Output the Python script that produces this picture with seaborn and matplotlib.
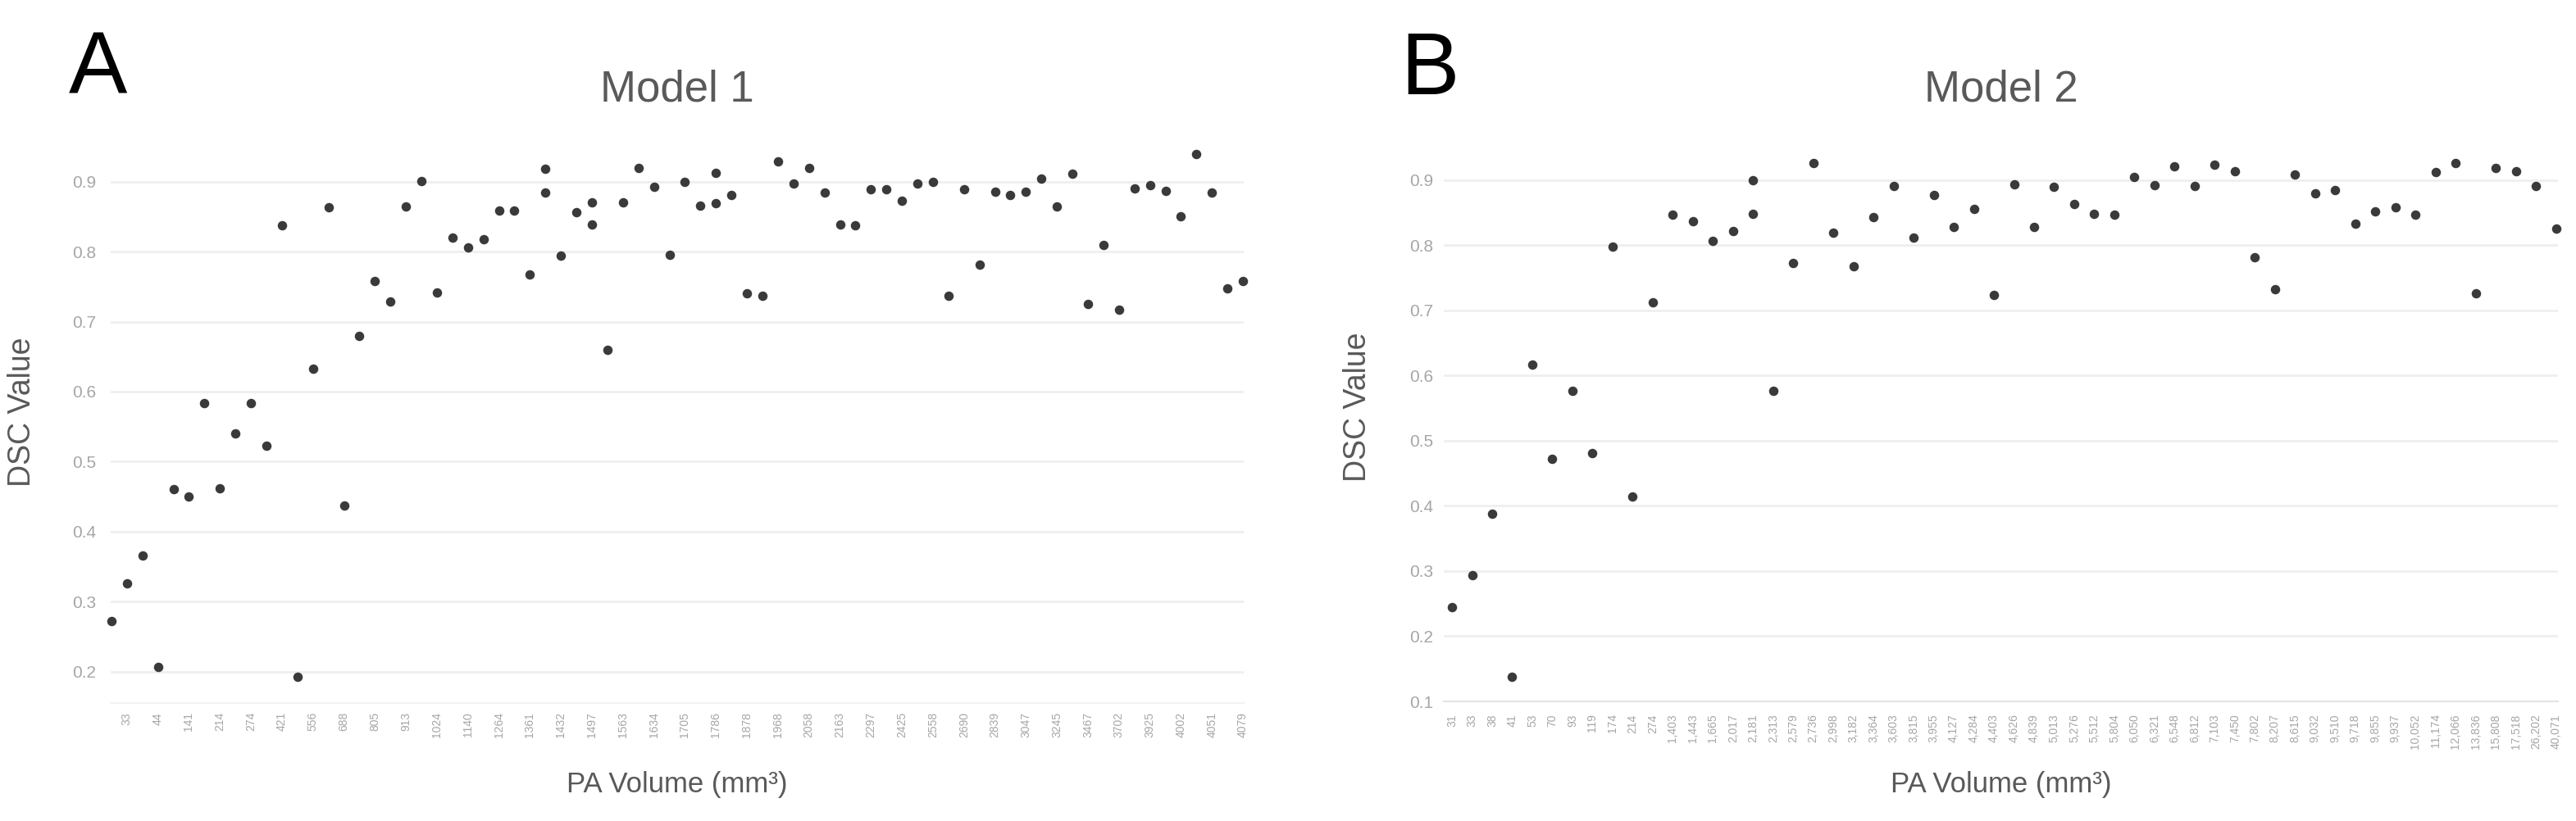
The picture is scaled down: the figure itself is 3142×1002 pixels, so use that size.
import numpy as np
import pandas as pd
import matplotlib
matplotlib.use("Agg")
import matplotlib.pyplot as plt
import seaborn as sns

# ---------------- data ----------------
# Panel A (Model 1): PA volume categories (mm^3) and DSC values
a_volume = ["31", "33", "37", "44", "109", "141", "174", "214", "243", "274",
            "338", "421", "473", "556", "612", "688", "741", "805", "867", "913",
            "978", "1024", "1081", "1140", "1198", "1264", "1327", "1361", "1398", "1432",
            "1461", "1497", "1529", "1563", "1600", "1634", "1669", "1705", "1744", "1786",
            "1830", "1878", "1927", "1968", "2011", "2058", "2109", "2163", "2234", "2297",
            "2360", "2425", "2495", "2558", "2622", "2690", "2764", "2839", "2958", "3047",
            "3176", "3245", "3398", "3467", "3625", "3702", "3841", "3925", "3968", "4002",
            "4029", "4051", "4066", "4079"]
a_dsc = [0.272, 0.326, 0.366, 0.206, 0.461, 0.450, 0.584, 0.462, 0.540, 0.583,
         0.523, 0.838, 0.193, 0.633, 0.864, 0.437, 0.680, 0.758, 0.729, 0.865,
         0.901, 0.742, 0.820, 0.806, 0.818, 0.859, 0.859, 0.768, 0.918, 0.794,
         0.857, 0.871, 0.660, 0.871, 0.920, 0.893, 0.795, 0.900, 0.866, 0.913,
         0.881, 0.740, 0.737, 0.929, 0.897, 0.920, 0.884, 0.839, 0.838, 0.889,
         0.889, 0.873, 0.897, 0.900, 0.737, 0.889, 0.782, 0.886, 0.881, 0.886,
         0.905, 0.865, 0.911, 0.725, 0.810, 0.717, 0.890, 0.895, 0.887, 0.851,
         0.940, 0.885, 0.748, 0.758]
a_extra_volume = ["1398", "1497", "1786"]
a_extra_dsc = [0.884, 0.839, 0.869]

# Panel B (Model 2)
b_volume = ["31", "33", "38", "41", "53", "70", "93", "119", "174", "214",
            "274", "1,403", "1,443", "1,665", "2,017", "2,181", "2,313", "2,579", "2,736", "2,998",
            "3,182", "3,364", "3,603", "3,815", "3,955", "4,127", "4,284", "4,403", "4,626", "4,839",
            "5,013", "5,276", "5,512", "5,804", "6,050", "6,321", "6,548", "6,812", "7,103", "7,450",
            "7,802", "8,207", "8,615", "9,032", "9,510", "9,718", "9,855", "9,937", "10,052", "11,174",
            "12,066", "13,836", "15,808", "17,518", "26,202", "40,071"]
b_dsc = [0.245, 0.294, 0.388, 0.138, 0.617, 0.472, 0.577, 0.481, 0.798, 0.414,
         0.712, 0.847, 0.837, 0.807, 0.822, 0.900, 0.577, 0.773, 0.926, 0.819,
         0.768, 0.843, 0.891, 0.811, 0.877, 0.828, 0.856, 0.723, 0.893, 0.828,
         0.889, 0.863, 0.848, 0.847, 0.904, 0.892, 0.921, 0.891, 0.923, 0.914,
         0.782, 0.733, 0.909, 0.880, 0.884, 0.833, 0.852, 0.858, 0.847, 0.912,
         0.926, 0.726, 0.918, 0.914, 0.891, 0.825]
b_extra_volume = ["2,181"]
b_extra_dsc = [0.848]

a_yticks = [0.2, 0.3, 0.4, 0.5, 0.6, 0.7, 0.8, 0.9]
b_yticks = [0.1, 0.2, 0.3, 0.4, 0.5, 0.6, 0.7, 0.8, 0.9]

titles = ["Model 1", "Model 2"]
panel_letters = ["A", "B"]
x_label = "PA Volume (mm³)"
y_label = "DSC Value"

# ---------------- style ----------------
sns.set_style("white")
plt.rcParams["font.family"] = ["Liberation Sans", "DejaVu Sans"]

W, H = 3142, 1002
fig = plt.figure(figsize=(W / 100, H / 100), dpi=100)

TEXT = "#595959"
TICK = "#a6a6a6"
MARK = "#3a3a3a"


def px_rect(left, top, right, bottom):
    return [left / W, 1 - bottom / H, (right - left) / W, (bottom - top) / H]


def panel(ax, vols, dsc, exv, exd, ylim, yticks, xlim, every, ypad, xpad, spine_col):
    df = pd.DataFrame({"vol": list(vols) + list(exv), "dsc": list(dsc) + list(exd)})
    sns.stripplot(data=df, x="vol", y="dsc", order=list(vols), jitter=False,
                  color=MARK, size=8.3, linewidth=0, ax=ax, zorder=3)
    for c in ax.collections:
        c.set_clip_on(False)
    ax.set_xlim(xlim)
    ax.set_ylim(ylim)
    ax.set_yticks(yticks)
    ax.set_yticklabels([f"{t:.1f}" for t in yticks])
    idx = list(range(every - 1, len(vols), every))
    ax.set_xticks(idx)
    ax.set_xticklabels([vols[i] for i in idx], rotation=90, va="top", ha="center")
    ax.grid(False)
    ax.yaxis.grid(True, color="#efefef", lw=2.0)
    ax.set_axisbelow(True)
    for s in ["top", "right", "left"]:
        ax.spines[s].set_visible(False)
    ax.spines["bottom"].set_color(spine_col)
    ax.spines["bottom"].set_linewidth(1.5)
    ax.tick_params(axis="y", length=0, labelsize=15, labelcolor=TICK, pad=ypad)
    ax.tick_params(axis="x", length=0, labelsize=10, labelcolor=TICK, pad=xpad)
    ax.set_xlabel("")
    ax.set_ylabel("")


# Panel A
axA = fig.add_axes(px_rect(135, 162, 1517, 858))
panel(axA, a_volume, a_dsc, a_extra_volume, a_extra_dsc, (0.155, 0.97), a_yticks,
      (-0.05, len(a_volume) - 1 + 0.05), 2, 13, 8, "#f3f3f3")

# Panel B
axB = fig.add_axes(px_rect(1761, 164, 3120, 856))
panel(axB, b_volume, b_dsc, b_extra_volume, b_extra_dsc, (0.1, 0.97), b_yticks,
      (-0.41, len(b_volume) - 1 + 0.1), 1, 9, 11, "#e3e3e3")

# Titles, panel letters, axis labels
for ax_rect_c, ttl, letter, lx, ylx, ycy in [
        ((135 + 1517) / 2, titles[0], panel_letters[0], 84, 27, 503),
        ((1761 + 3120) / 2, titles[1], panel_letters[1], 1708, 1656, 497)]:
    fig.text(ax_rect_c / W, 1 - 123 / H, ttl, ha="center", va="baseline",
             fontsize=38, color=TEXT)
    fig.text(lx / W, 1 - 115 / H, letter, ha="left", va="baseline",
             fontsize=77, color="black")
    fig.text(ax_rect_c / W, 1 - 967 / H, x_label, ha="center", va="baseline",
             fontsize=25, color=TEXT)
    fig.text(ylx / W, 1 - ycy / H, y_label, ha="center", va="center",
             rotation=90, fontsize=27, color=TEXT)

fig.savefig("out.png", dpi=100, facecolor="white")
